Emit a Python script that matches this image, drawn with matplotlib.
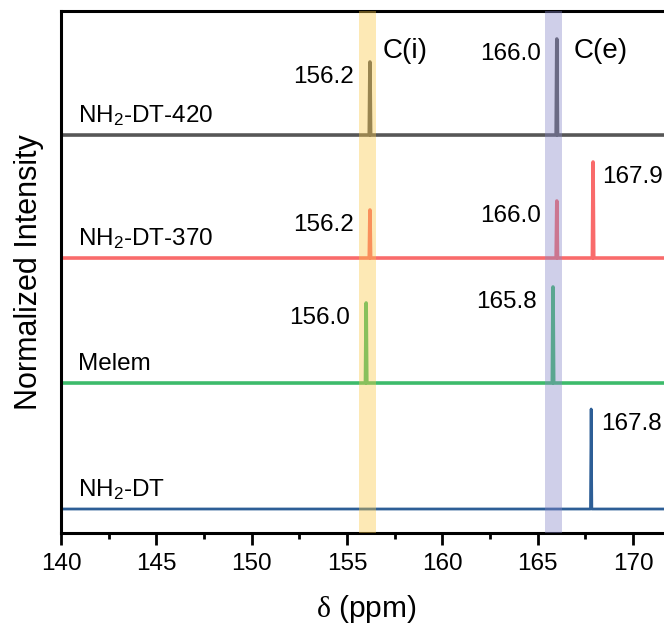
import numpy as np
import matplotlib
matplotlib.use('Agg')
import matplotlib.pyplot as plt

plt.rcParams['font.family'] = ['Liberation Sans', 'DejaVu Sans']
plt.rcParams['mathtext.fontset'] = 'custom'
plt.rcParams['mathtext.rm'] = 'Liberation Sans'
plt.rcParams['mathtext.it'] = 'Liberation Sans:italic'
plt.rcParams['mathtext.sf'] = 'Liberation Serif'

# Spectra: baseline offset, peak positions (ppm) and peak heights (normalized)
names = ['NH$_2$-DT', 'Melem', 'NH$_2$-DT-370', 'NH$_2$-DT-420']
colors = ['#2d5e96', '#3dbb6b', '#f96b6b', '#575757']
offsets = [0.24, 1.50, 2.75, 3.98]
peak_pos = [[167.8], [156.0, 165.8], [156.2, 166.0, 167.9], [156.2, 166.0]]
peak_h = [[1.00], [0.80, 0.96], [0.48, 0.57, 0.96], [0.73, 0.96]]
peak_labels = [['167.8'], ['156.0', '165.8'], ['156.2', '166.0', '167.9'], ['156.2', '166.0']]
# which side the peak label sits on: -1 left, 1 right
label_side = [[1], [-1, -1], [-1, -1, 1], [-1, -1]]

x_min, x_max = 140, 172
half_w = 0.035  # half width of each drawn peak

fig = plt.figure(figsize=(6.64, 6.34), dpi=100)
ax = fig.add_axes([0.0919, 0.1593, 0.919, 0.8233])

for i in range(len(names)):
    xs = [x_min]
    ys = [offsets[i]]
    for p, h in zip(peak_pos[i], peak_h[i]):
        xs += [p - half_w, p, p + half_w]
        ys += [offsets[i], offsets[i] + h, offsets[i]]
    xs.append(x_max)
    ys.append(offsets[i])
    lw = 2.0 if i == 0 else 2.6
    ax.plot(xs, ys, color=colors[i], lw=lw)
    ax.text(140.9, offsets[i] + 0.13, names[i], fontsize=17.5, ha='left', va='baseline')
    for p, h, lab, s in zip(peak_pos[i], peak_h[i], peak_labels[i], label_side[i]):
        gap = 0.5 if s > 0 else 0.85
        ax.text(p + s * gap, offsets[i] + h - 0.15, lab, fontsize=17.5,
                ha='left' if s > 0 else 'right', va='center')

# highlighted carbon regions
ax.axvspan(155.65, 156.5, color=(250/255, 200/255, 70/255), alpha=0.4, lw=0, zorder=3)
ax.axvspan(165.4, 166.28, color=(135/255, 135/255, 202/255), alpha=0.4, lw=0, zorder=3)
ax.text(156.85, 4.82, 'C(i)', fontsize=20, ha='left', va='center')
ax.text(166.87, 4.82, 'C(e)', fontsize=20, ha='left', va='center')

ax.set_xlim(x_min, x_max)
ax.set_ylim(0, 5.22)
ax.set_xticks(np.arange(140, 171, 5))
ax.set_xticks(np.arange(142.5, 172, 5), minor=True)
ax.set_yticks([])
ax.tick_params(axis='x', which='major', length=8.6, width=2, labelsize=17.5, pad=6)
ax.tick_params(axis='x', which='minor', length=4.3, width=2)
for sp in ax.spines.values():
    sp.set_linewidth(2.2)

ax.set_xlabel(r'$\mathsf{\delta}$ (ppm)', fontsize=21.5, labelpad=13)
ax.set_ylabel('Normalized Intensity', fontsize=22, labelpad=12)

fig.savefig('out.png', dpi=100)
